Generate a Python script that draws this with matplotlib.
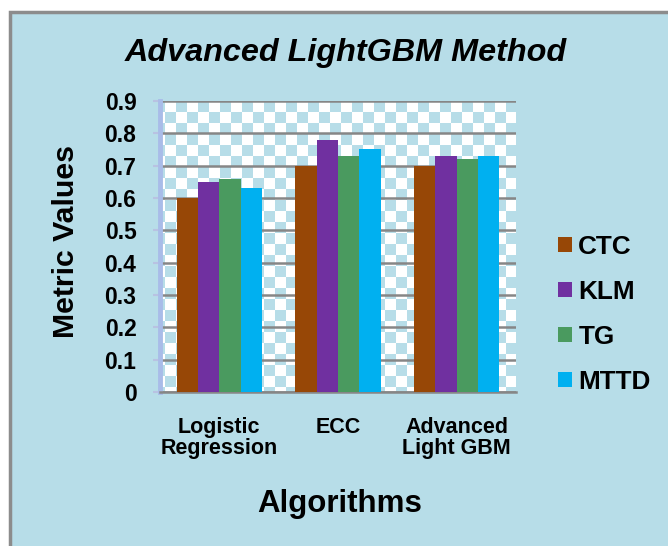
import matplotlib
matplotlib.use("Agg")
import matplotlib.pyplot as plt
import numpy as np
from matplotlib.patches import Rectangle
from matplotlib.colors import ListedColormap

# data
algorithms = ["Logistic\nRegression", "ECC", "Advanced\nLight GBM"]
ctc = [0.60, 0.70, 0.70]
klm = [0.65, 0.78, 0.73]
tg = [0.66, 0.73, 0.72]
mttd = [0.63, 0.75, 0.73]
series_names = ["CTC", "KLM", "TG", "MTTD"]
series_colors = ["#974706", "#7030A0", "#4A9A5F", "#00B0F0"]
yticks = [0, 0.1, 0.2, 0.3, 0.4, 0.5, 0.6, 0.7, 0.8, 0.9]
ytick_labels = ["0", "0.1", "0.2", "0.3", "0.4", "0.5", "0.6", "0.7", "0.8", "0.9"]

plt.rcParams["font.family"] = ["Liberation Sans", "DejaVu Sans"]
plt.rcParams["font.weight"] = "bold"

W, H = 668, 546
fig = plt.figure(figsize=(W / 100, H / 100), dpi=100)
fig.patch.set_facecolor("white")

# light blue chart area with grey border (right/bottom edges run off the image)
fig.patches.append(Rectangle((10 / W, -0.05), 1.1, 1 - 12 / H + 0.05,
                             transform=fig.transFigure, facecolor="#B7DDE8",
                             edgecolor="#8C8C8C", lw=2.5, zorder=-10))

ax_l, ax_r, ax_b, ax_t = 160, 516, 392, 101
ax = fig.add_axes([ax_l / W, 1 - ax_b / H, (ax_r - ax_l) / W, (ax_b - ax_t) / H])
ax.set_facecolor("white")

# checkerboard plot background, 11 px squares
aw, ah = ax_r - ax_l, ax_b - ax_t
nx, ny = int(np.ceil(aw / 11)) + 1, int(np.ceil(ah / 11)) + 1
checker = (np.add.outer(np.arange(ny), np.arange(nx)) + 1) % 2
ax.imshow(checker, cmap=ListedColormap(["white", "#B7DDE8"]), interpolation="nearest",
          extent=(-6 / aw, (nx * 11 - 6) / aw, 1 - ny * 11 / ah, 1),
          transform=ax.transAxes, aspect="auto", zorder=0.1)

x = np.arange(len(algorithms))
width = 0.18
handles = []
for i, (vals, name, col) in enumerate(zip([ctc, klm, tg, mttd], series_names, series_colors)):
    b = ax.bar(x + (i - 1.5) * width, vals, width, color=col, label=name, zorder=3)
    handles.append(b)

ax.set_xlim(-0.5, 2.5)
ax.set_ylim(0, 0.9)
ax.set_yticks(yticks)
ax.set_yticklabels(ytick_labels, fontsize=16.5, fontweight="bold")
ax.set_xticks(x)
ax.set_xticklabels(algorithms, fontsize=15.5, fontweight="bold", linespacing=1.0)
ax.tick_params(axis="x", length=0, pad=18)
ax.tick_params(axis="y", length=5, width=1.5, color="#B8C2E2", pad=12)

ax.set_axisbelow(True)
ax.yaxis.grid(True, color="#868686", lw=1.8)
for s in ["top", "right"]:
    ax.spines[s].set_visible(False)
ax.spines["left"].set_color("#A9BCE8")
ax.spines["left"].set_linewidth(3.5)
ax.spines["bottom"].set_color("#868686")
ax.spines["bottom"].set_linewidth(1.8)

fig.text(345.5 / W, 1 - 61 / H, "Advanced LightGBM Method", ha="center", va="baseline",
         fontsize=23.3, fontweight="bold", style="italic")
fig.text(73.5 / W, 1 - 242 / H, "Metric Values", rotation=90, rotation_mode="anchor",
         ha="center", va="baseline", fontsize=21.8, fontweight="bold")
fig.text(339.5 / W, 1 - 512 / H, "Algorithms", ha="center", va="baseline",
         fontsize=22.5, fontweight="bold")

fig.legend(handles=handles, labels=series_names, loc="upper left",
           bbox_to_anchor=(558 / W, 1 - 235 / H), bbox_transform=fig.transFigure,
           frameon=False, prop={"weight": "bold", "size": 18.8},
           handlelength=0.53, handleheight=0.53, handletextpad=0.25,
           labelspacing=0.8, borderpad=0, borderaxespad=0)

fig.savefig("out.png", dpi=100)
